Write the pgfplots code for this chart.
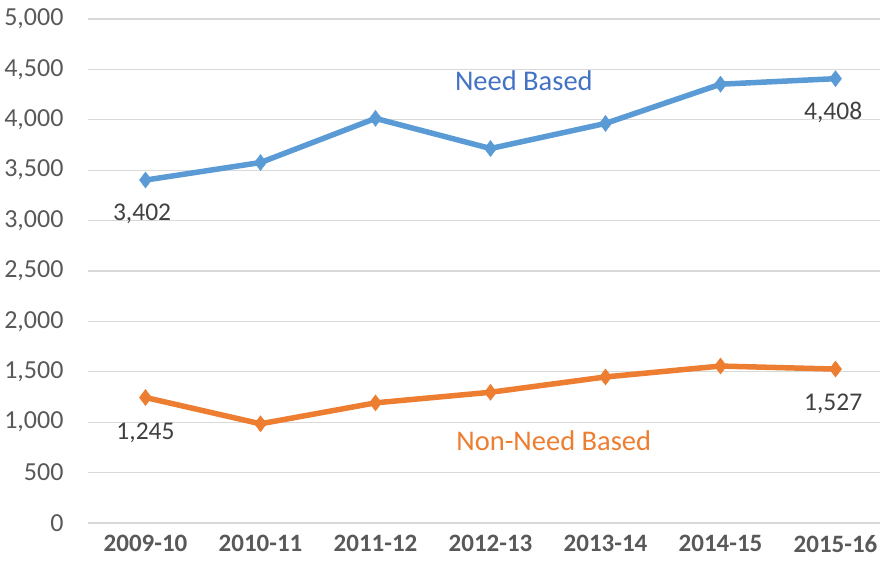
\documentclass[border=0pt]{standalone}
\usepackage{pgfplots}
\pgfplotsset{compat=1.18}
\usepackage{fontspec}
\setmainfont{Carlito}
\definecolor{nbblue}{HTML}{5B9BD5}
\definecolor{nborange}{HTML}{ED7D31}
\definecolor{lblblue}{HTML}{4472C4}
\definecolor{tickgray}{HTML}{595959}
\definecolor{datagray}{HTML}{404040}
\definecolor{gridgray}{HTML}{D9D9D9}
\begin{document}
\begin{tikzpicture}
\begin{axis}[
  scale only axis,
  width=792pt, height=504pt,
  xmin=-0.5, xmax=6.387,
  ymin=0, ymax=5000,
  ytick={0,500,...,5000},
  xtick={0,1,2,3,4,5,6},
  xticklabels={2009-10,2010-11,2011-12,2012-13,2013-14,2014-15,2015-16},
  x tick label style={font=\fontsize{25}{29}\selectfont\bfseries, text=tickgray, yshift=-9pt},
  y tick label style={font=\fontsize{26}{30}\selectfont, text=tickgray, xshift=-21pt},
  /pgf/number format/.cd, 1000 sep={,}, assume math mode=true,
  /pgfplots/.cd,
  axis line style={draw=none},
  major tick length=0pt,
  ymajorgrids,
  grid style={gridgray, line width=1.3pt},
  clip=false,
]
\addplot[nbblue, line width=5.5pt, mark=diamond*, mark size=8pt, mark options={solid, fill=nbblue, line width=0.5pt}]
  coordinates {(0,3402) (1,3576) (2,4014) (3,3715) (4,3964) (5,4353) (6,4408)};
\addplot[nborange, line width=5.5pt, mark=diamond*, mark size=8pt, mark options={solid, fill=nborange, line width=0.5pt}]
  coordinates {(0,1245) (1,984) (2,1192) (3,1297) (4,1449) (5,1557) (6,1527)};
\node[font=\fontsize{25.5}{29}\selectfont, text=datagray] at (axis cs:-0.03,3065) {3,402};
\node[font=\fontsize{25.5}{29}\selectfont, text=datagray] at (axis cs:5.98,4075) {4,408};
\node[font=\fontsize{25.5}{29}\selectfont, text=datagray] at (axis cs:0.0,895) {1,245};
\node[font=\fontsize{25.5}{29}\selectfont, text=datagray] at (axis cs:5.98,1185) {1,527};
\node[font=\fontsize{28.5}{32}\selectfont, text=lblblue] at (axis cs:3.29,4385) {Need Based};
\node[font=\fontsize{28.5}{32}\selectfont, text=nborange] at (axis cs:3.55,813) {Non-Need Based};
\end{axis}
\pgfresetboundingbox
\path (current axis.south west) ++(-88pt,-42pt) rectangle ++(882pt,565pt);
\end{tikzpicture}
\end{document}
